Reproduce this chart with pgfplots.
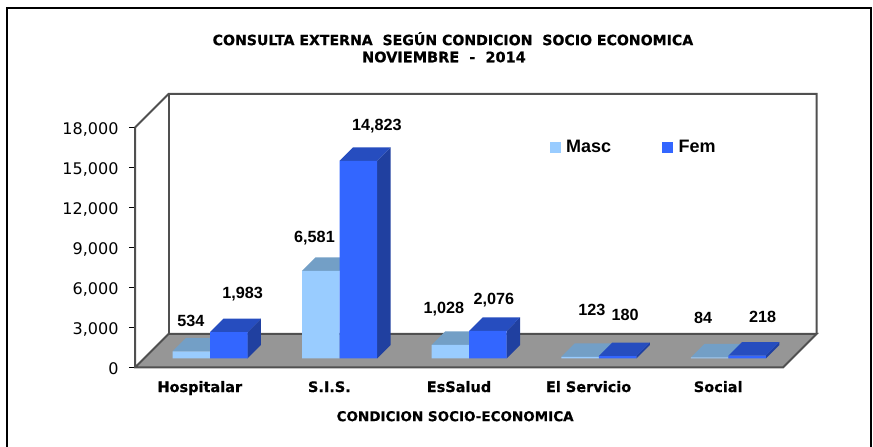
\documentclass[border=0pt]{standalone}
\usepackage{pgfplots}
\pgfplotsset{compat=1.18}
\usepackage{fontspec}
\setmainfont[BoldFeatures={FakeBold=0.5}]{DejaVu Sans}
\newfontfamily\lib{Liberation Sans}
\definecolor{mf}{HTML}{99CCFF}
\definecolor{mt}{HTML}{739FC6}
\definecolor{ff}{HTML}{3366FF}
\definecolor{ft}{HTML}{264DBF}
\definecolor{fs}{HTML}{2040A0}
\definecolor{flr}{HTML}{969696}
\definecolor{wl}{HTML}{505050}
\newcommand{\lbl}[3]{\node[font=\lib\bfseries\fontsize{16.2}{18}\selectfont,text=black] at (axis cs:#1,#2) {#3};}
\begin{document}
\begin{tikzpicture}[x=1pt,y=1pt]
\path[use as bounding box] (0,0) rectangle (873,447);
\draw[line width=1.2pt,black] (7,0)--(7,439)--(871,439)--(871,0);
% walls, floor and scale
\begin{axis}[
  at={(135pt,79.5pt)},anchor=south west,scale only axis,width=648pt,height=240pt,
  xmin=0,xmax=5,ymin=0,ymax=18000,clip=false,
  axis x line*=bottom,axis y line*=left,
  axis line style={draw=none},
  ytick={0,3000,6000,9000,12000,15000,18000},
  scaled y ticks=false,
  yticklabel style={font=\fontsize{16}{18}\selectfont,xshift=-7pt,yshift=-1.5pt,/pgf/number format/1000 sep={,},/pgf/number format/assume math mode=true},
  tick style={black,line width=1pt},
  tick align=outside,
  major tick length=6pt,
  xtick={0.5,1.5,2.5,3.5,4.5},
  xticklabels={Hospitalar,S.I.S.,EsSalud,El Servicio,Social},
  x tick style={draw=none},
  xticklabel style={font=\bfseries\fontsize{14.5}{16}\selectfont,text height=11pt,text depth=3pt,yshift=-4pt},
  minor xtick={0,1,2,3,4,5},
  minor x tick style={black,line width=1pt},
  minor tick length=6pt,
  xlabel={CONDICION SOCIO-ECONOMICA},
  xlabel style={font=\bfseries\fontsize{13.5}{15}\selectfont,at={(axis description cs:0.494,-0.203)},anchor=center},
  title={CONSULTA EXTERNA\ \ SEGÚN CONDICION\ \ SOCIO ECONOMICA},
  title style={font=\bfseries\fontsize{14.1}{16}\selectfont,at={(axis description cs:0.4907,1.345)},anchor=center},
]
\addplot[fill=flr,draw=none,forget plot] coordinates {(0,0)(5,0)(5.2585,2512.5)(0.2585,2512.5)} -- cycle;
\addplot[wl,line width=2pt,forget plot] coordinates {(0,18000)(0,0)(5,0)(5.2585,2512.5)(0.2585,2512.5)(0,0)};
\addplot[wl,line width=2pt,forget plot] coordinates {(0,18000)(0.2585,20512.5)(5.2585,20512.5)(5.2585,2512.5)};
\addplot[wl,line width=2pt,forget plot] coordinates {(0.2585,20512.5)(0.2585,2512.5)};
\node[font=\bfseries\fontsize{14.5}{16}\selectfont] at (axis cs:2.384,23287) {NOVIEMBRE\ \ -\ \ 2014};
\lbl{0.432}{3510}{534}
\lbl{0.831}{5535}{1,983}
\lbl{1.385}{9712}{6,581}
\lbl{1.867}{18135}{14,823}
\lbl{2.384}{4387}{1,028}
\lbl{2.770}{5062}{2,076}
\lbl{3.526}{4312}{123}
\lbl{3.781}{3937}{180}
\lbl{4.383}{3712}{84}
\lbl{4.842}{3810}{218}
\end{axis}
% bars, on the same scale, standing further back on the floor
\begin{axis}[
  at={(135pt,79.5pt)},anchor=south west,scale only axis,width=648pt,height=240pt,
  xmin=-0.079,xmax=4.921,ymin=-675,ymax=17325,clip=false,hide axis,
  legend style={at={(0.64,0.919)},anchor=west,draw=none,fill=none,inner sep=0pt,outer sep=0pt,
    legend columns=2,font=\lib\bfseries\fontsize{18}{20}\selectfont,
    /tikz/every even column/.append style={column sep=49pt},
    /tikz/every odd column/.append style={column sep=4pt}},
  legend cell align=left,
]
\addlegendimage{legend image code/.code={\fill[mf] (0pt,-5pt) rectangle (10pt,5pt);}}
\addlegendentry{Masc}
\addlegendimage{legend image code/.code={\fill[ff] (0pt,-5pt) rectangle (10pt,5pt);}}
\addlegendentry{Fem}
% Masc tops
\addplot[fill=mt,draw=none,forget plot] coordinates {(0.211,534)(0.5,534)(0.604,1546.5)(0.315,1546.5)} -- cycle;
\addplot[fill=mt,draw=none,forget plot] coordinates {(1.211,6581)(1.5,6581)(1.604,7593.5)(1.315,7593.5)} -- cycle;
\addplot[fill=mt,draw=none,forget plot] coordinates {(2.211,1028)(2.5,1028)(2.604,2040.5)(2.315,2040.5)} -- cycle;
\addplot[fill=mt,draw=none,forget plot] coordinates {(3.211,123)(3.5,123)(3.604,1135.5)(3.315,1135.5)} -- cycle;
\addplot[fill=mt,draw=none,forget plot] coordinates {(4.211,84)(4.5,84)(4.604,1096.5)(4.315,1096.5)} -- cycle;
% Masc fronts
\addplot[ybar,bar width=37.5pt,bar shift=-18.75pt,fill=mf,draw=none,forget plot] coordinates {(0.5,534)(1.5,6581)(2.5,1028)(3.5,123)(4.5,84)};
% Fem sides
\addplot[fill=fs,draw=none,forget plot] coordinates {(0.789,0)(0.893,1012.5)(0.893,2995.5)(0.789,1983)} -- cycle;
\addplot[fill=fs,draw=none,forget plot] coordinates {(1.789,0)(1.893,1012.5)(1.893,15835.5)(1.789,14823)} -- cycle;
\addplot[fill=fs,draw=none,forget plot] coordinates {(2.789,0)(2.893,1012.5)(2.893,3088.5)(2.789,2076)} -- cycle;
\addplot[fill=fs,draw=none,forget plot] coordinates {(3.789,0)(3.893,1012.5)(3.893,1192.5)(3.789,180)} -- cycle;
\addplot[fill=fs,draw=none,forget plot] coordinates {(4.789,0)(4.893,1012.5)(4.893,1230.5)(4.789,218)} -- cycle;
% Fem tops
\addplot[fill=ft,draw=none,forget plot] coordinates {(0.5,1983)(0.789,1983)(0.893,2995.5)(0.604,2995.5)} -- cycle;
\addplot[fill=ft,draw=none,forget plot] coordinates {(1.5,14823)(1.789,14823)(1.893,15835.5)(1.604,15835.5)} -- cycle;
\addplot[fill=ft,draw=none,forget plot] coordinates {(2.5,2076)(2.789,2076)(2.893,3088.5)(2.604,3088.5)} -- cycle;
\addplot[fill=ft,draw=none,forget plot] coordinates {(3.5,180)(3.789,180)(3.893,1192.5)(3.604,1192.5)} -- cycle;
\addplot[fill=ft,draw=none,forget plot] coordinates {(4.5,218)(4.789,218)(4.893,1230.5)(4.604,1230.5)} -- cycle;
% Fem fronts
\addplot[ybar,bar width=37.5pt,bar shift=18.75pt,fill=ff,draw=none,forget plot] coordinates {(0.5,1983)(1.5,14823)(2.5,2076)(3.5,180)(4.5,218)};
\end{axis}
\end{tikzpicture}
\end{document}
